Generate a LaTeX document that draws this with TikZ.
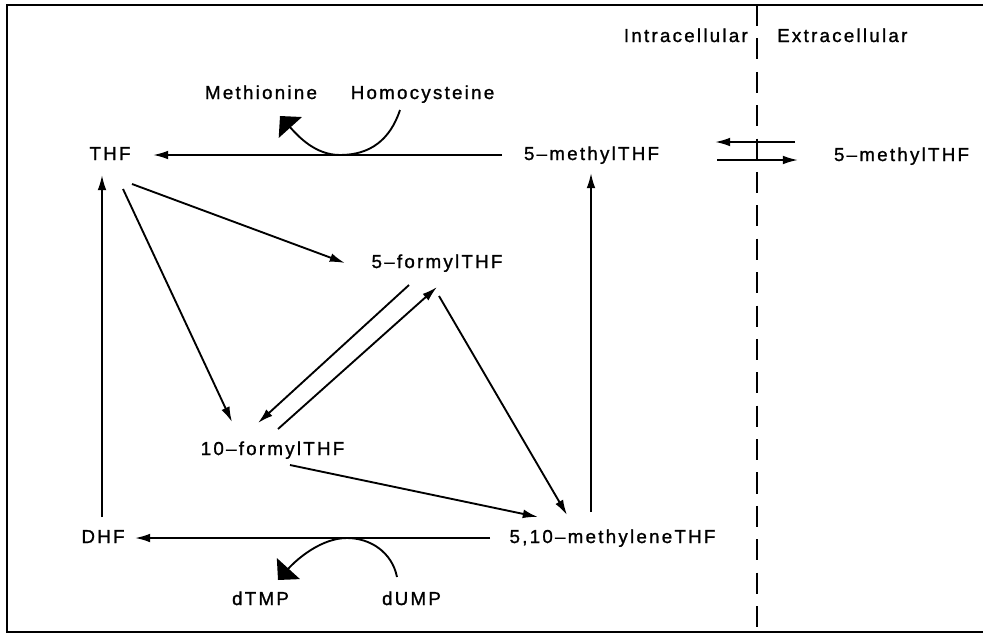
\documentclass[tikz,border=0pt]{standalone}
\usepackage{fontspec}
\newfontfamily\lab{Liberation Sans}[LetterSpace=12,FakeBold=1.2]
\usetikzlibrary{arrows.meta,calc}
\begin{document}
\begin{tikzpicture}[x=0.03cm,y=-0.03cm,
  lbl/.style={font=\lab\fontsize{16}{19}\selectfont, inner sep=0pt, anchor=base},
  arr/.style={line width=1.6pt, -{Latex[length=13pt,width=7.5pt]}},
  bigarr/.style={line width=1.6pt, -{Triangle[length=13.2pt,width=26.4pt]}},
  frame/.style={line width=2.2pt},
  membrane/.style={line width=1.5pt, dash pattern=on 12\pgflinewidth off 7\pgflinewidth}]
\useasboundingbox (0,0) rectangle (983,635);
% frame
\draw[frame] (983,5) -- (7,5) -- (7,632) -- (983,632);
% membrane
\coordinate (memtop) at (757,5);
\coordinate (membot) at (757,632);
\draw[membrane] (memtop) -- (membot);
% labels
\node[lbl, anchor=base east] (intra) at (748,42) {Intracellular};
\node[lbl, anchor=base west] (extra) at (777,42) {Extracellular};
\node[lbl] (met) at (261,99) {Methionine};
\node[lbl] (hcy) at (422.5,99) {Homocysteine};
\node[lbl] (thf) at (110,160) {THF};
\node[lbl] (m5in) at (591.5,160) {5–methylTHF};
\node[lbl] (m5ex) at (901.5,161) {5–methylTHF};
\node[lbl] (f5) at (437,268) {5–formylTHF};
\node[lbl] (f10) at (272.5,455) {10–formylTHF};
\node[lbl] (dhf) at (103,543) {DHF};
\node[lbl] (mth) at (612.5,543) {5,10–methyleneTHF};
\node[lbl] (dtmp) at (260.5,605) {dTMP};
\node[lbl] (dump) at (411.5,605) {dUMP};
% connectors
\draw[arr] ($(m5in.base)+(-89.5,-5)$) -- ($(thf.base)+(43,-5)$);
\draw[arr] ($(dhf.base)+(-1,-26)$) -- ($(thf.base)+(-8,15)$);
\draw[arr] ($(thf.base)+(22,24)$) -- ($(f5.base)+(-92,-5)$);
\draw[arr] ($(thf.base)+(13,29)$) -- ($(f10.base)+(-40.5,-33)$);
\draw[arr] ($(f5.base)+(-28,17)$) -- ($(f10.base)+(-14.5,-32)$);
\draw[arr] ($(f10.base)+(5.5,-26)$) -- ($(f5.base)+(0,19)$);
\draw[arr] ($(f5.base)+(2,28)$) -- ($(mth.base)+(-45.5,-28)$);
\draw[arr] ($(f10.base)+(17.5,10)$) -- ($(mth.base)+(-74.5,-26)$);
\draw[arr] ($(mth.base)+(-21.5,-31)$) -- ($(m5in.base)+(-0.5,13)$);
\draw[arr] ($(mth.base)+(-122.5,-5)$) -- ($(dhf.base)+(32,-5)$);
\draw[arr] ($(m5in.base)+(125.5,0)$) -- ($(m5ex.base)+(-103.5,-1)$);
\draw[arr] ($(m5ex.base)+(-106.5,-19)$) -- ($(m5in.base)+(123.5,-18)$);
% side reactions
\draw[bigarr] ($(hcy.base)+(-22.5,11)$) .. controls (390,140) and (370,155) .. (340,155)
  .. controls (315,155) and (298,136) .. ($(met.base)+(19,17)$);
\draw[bigarr] ($(dump.base)+(-14.5,-28)$) .. controls (392,552) and (370,538) .. (347,538)
  .. controls (322,538) and (298,558) .. ($(dtmp.base)+(17.5,-25)$);
\end{tikzpicture}
\end{document}
